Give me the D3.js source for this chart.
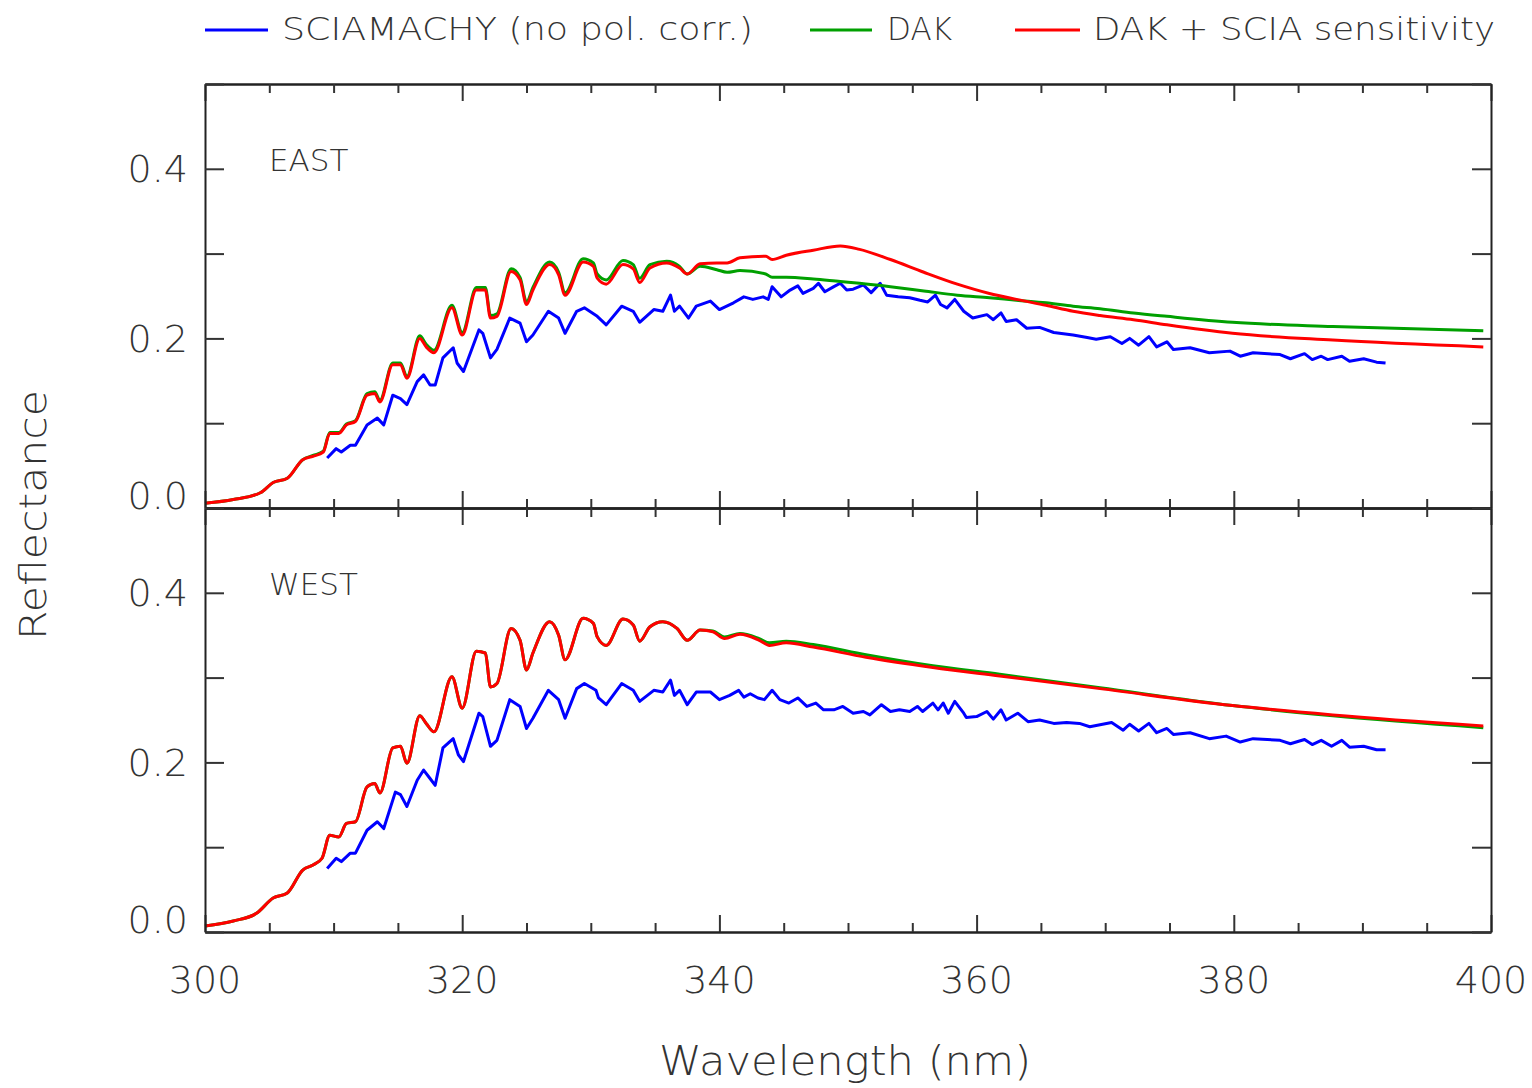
<!DOCTYPE html>
<html><head><meta charset="utf-8">
<script src="https://cdn.jsdelivr.net/npm/d3@7"></script>
<style>
body{margin:0;background:#fff}
text{font-family:"DejaVu Sans","Liberation Sans",sans-serif;fill:#333;font-weight:200}
</style>
</head><body>
<svg id="c" width="1532" height="1088"></svg>
<script>
// ---------- DATA ----------
const xTickLabels = [300, 320, 340, 360, 380, 400];
const yTickLabels = [0.0, 0.2, 0.4];
const seriesNames = ["SCIAMACHY (no pol. corr.)", "DAK", "DAK + SCIA sensitivity"];
const panelNames = ["EAST", "WEST"];

// EAST: DAK model grid
const eastDakWl = [300,302.2,304.3,305.3,306.4,307.6,308.4,309.2,309.7,310.4,
  311.0,311.7,312.6,313.2,313.6,314.6,315.2,315.7,316.7,317.2,
  317.8,319.2,320.0,321.1,321.8,322.2,322.7,323.8,324.5,325.0,
  325.5,326.8,327.5,328.0,329.4,330.2,330.5,331.2,332.5,333.3,
  333.8,334.6,335.9,336.9,337.5,338.5,339.8,340.6,341.6,343.6,
  344.1,345.2,347.3,349.4,
  350.9,353.3,355.9,358.5,361.0,363.1,365.4,367.5,369.6,372.2,374.8,379.9,387.7,399.4];
const eastDak = [.0055,.010,.018,.030,.035,.057,.062,.067,.089,.089,
  .099,.103,.135,.137,.127,.171,.171,.155,.203,.193,
  .186,.239,.207,.260,.260,.227,.229,.282,.272,.243,
  .260,.290,.278,.254,.294,.289,.276,.269,.292,.287,
  .271,.287,.291,.285,.276,.285,.281,.278,.280,.276,
  .272,.272,.270,.267,
  .265,.261,.256,.251,.248,.245,.242,.238,.235,.230,.226,.219,.214,.209];
const eastDakScia = [.0055,.010,.018,.030,.035,.057,.061,.066,.088,.088,
  .098,.102,.133,.135,.125,.169,.169,.153,.200,.190,
  .183,.236,.204,.257,.257,.224,.226,.279,.269,.240,
  .257,.287,.275,.251,.290,.285,.271,.264,.287,.282,
  .266,.283,.289,.283,.276,.288,.289,.289,.295,.297,
  .293,.298,.304,.309,
  .305,.293,.278,.264,.253,.246,.239,.232,.227,.222,.216,.206,.198,.190];
// EAST: SCIAMACHY measurement
const eastSciaWl = [309.5,310.2,310.6,311.3,311.7,312.6,313.4,313.9,314.6,315.2,
  315.7,316.5,317.0,317.5,317.9,318.5,319.3,319.6,320.1,321.3,
  321.6,322.2,322.7,323.7,324.5,325.0,325.5,326.7,327.5,328.0,
  328.9,329.5,330.5,331.2,332.4,333.3,333.8,334.9,335.6,336.2,
  336.5,336.9,337.6,338.2,339.3,340.0,341.1,341.9,342.6,343.4,
  343.8,344.1,344.8,345.5,346.1,346.5,347.3,347.7,348.2,348.9,
  349.4,349.9,350.4,351.2,351.8,352.5,353.0,353.9,354.8,355.6,
  356.2,356.8,357.2,357.7,358.3,359.0,359.7,360.8,361.3,361.9,
  362.3,363.1,363.9,364.9,366.0,367.5,368.6,369.3,370.4,371.3,
  371.9,372.6,373.4,374.0,374.8,375.3,376.6,378.1,379.7,380.5,
  381.5,383.6,384.4,385.5,386.1,386.8,387.3,388.4,389.0,390.1,
  391.1,391.8];
const eastScia = [.059,.070,.066,.074,.074,.098,.106,.098,.133,.129,
  .122,.149,.157,.145,.145,.177,.189,.171,.161,.210,
  .206,.177,.187,.224,.218,.196,.204,.232,.224,.206,
  .232,.236,.226,.216,.238,.232,.219,.234,.232,.251,
  .232,.238,.224,.238,.244,.234,.242,.249,.246,.249,
  .246,.261,.249,.257,.262,.253,.259,.265,.255,.261,
  .265,.257,.258,.263,.254,.265,.251,.249,.248,.245,
  .243,.251,.240,.236,.246,.232,.224,.228,.222,.230,
  .220,.222,.212,.213,.207,.204,.201,.199,.202,.194,
  .200,.192,.202,.190,.196,.187,.189,.183,.185,.179,
  .183,.181,.176,.182,.175,.179,.175,.179,.173,.176,
  .172,.171];

// WEST: DAK model grid
const westDakWl = [300,302.2,304.0,305.3,306.4,307.6,308.4,309.1,309.7,310.4,
  311.0,311.7,312.6,313.2,313.6,314.6,315.2,315.7,316.7,317.2,
  317.8,319.2,320.0,321.1,321.8,322.2,322.7,323.8,324.5,325.0,
  325.5,326.8,327.5,328.0,329.4,330.2,330.5,331.2,332.5,333.3,
  333.8,334.6,335.6,336.7,337.5,338.5,339.5,340.4,341.6,343.1,
  343.9,345.2,347.3,351.4,356.6,361.8,369.6,379.9,387.7,399.4];
const westDak = [.007,.013,.022,.040,.046,.073,.079,.087,.114,.112,
  .128,.130,.171,.175,.164,.217,.219,.199,.255,.246,
  .236,.301,.264,.331,.329,.289,.293,.358,.344,.309,
  .329,.366,.350,.321,.370,.364,.348,.338,.369,.362,
  .343,.360,.366,.358,.344,.356,.355,.348,.352,.346,
  .341,.343,.339,.327,.314,.304,.288,.267,.255,.241];
const westDakScia = [.007,.013,.022,.040,.046,.073,.079,.087,.114,.112,
  .128,.130,.171,.175,.164,.217,.219,.199,.255,.246,
  .236,.301,.264,.331,.329,.289,.293,.358,.344,.309,
  .329,.366,.350,.321,.370,.364,.348,.338,.369,.362,
  .343,.360,.366,.358,.344,.356,.354,.346,.351,.344,
  .338,.341,.336,.324,.312,.302,.287,.267,.256,.243];
// WEST: SCIAMACHY measurement
const westSciaWl = [309.5,310.2,310.6,311.3,311.7,312.6,313.4,313.9,314.8,315.2,
  315.7,316.5,317.0,317.5,317.9,318.5,319.3,319.7,320.1,321.3,
  321.6,322.2,322.7,323.7,324.5,325.0,325.5,326.7,327.5,328.0,
  328.9,329.5,330.4,330.6,331.2,332.4,333.3,333.8,334.9,335.6,
  336.2,336.5,336.9,337.5,338.2,339.3,340.0,340.8,341.5,341.9,
  342.4,343.0,343.5,344.1,344.7,345.4,346.1,346.8,347.5,348.1,
  348.9,349.6,350.4,351.2,351.7,352.6,353.3,354.0,354.8,355.4,
  355.8,356.6,357.0,357.4,357.8,358.3,359.0,359.2,360.0,360.8,
  361.3,361.9,362.3,363.2,364.0,364.9,366.0,367.0,368.0,368.8,
  369.5,370.5,371.4,371.9,372.6,373.4,374.0,374.8,375.3,376.6,
  378.1,379.4,380.5,381.5,383.6,384.4,385.5,386.1,386.8,387.6,
  388.4,389.0,390.1,391.1,391.8];
const westScia = [.075,.087,.083,.093,.093,.120,.130,.122,.165,.162,
  .148,.179,.191,.181,.173,.217,.228,.209,.201,.258,
  .254,.219,.226,.274,.266,.240,.252,.285,.274,.252,
  .287,.293,.285,.276,.268,.293,.285,.272,.285,.283,
  .297,.279,.285,.268,.283,.283,.274,.279,.285,.277,
  .281,.276,.274,.285,.274,.270,.276,.266,.270,.262,
  .262,.266,.258,.260,.256,.268,.260,.262,.260,.266,
  .260,.270,.262,.270,.258,.272,.258,.253,.254,.260,
  .251,.262,.250,.258,.248,.250,.246,.247,.246,.242,
  .244,.247,.238,.245,.237,.246,.235,.240,.233,.235,
  .228,.231,.224,.228,.226,.222,.227,.221,.226,.219,
  .226,.218,.219,.215,.215];

// ---------- LAYOUT / STYLE ----------
const colors = ["#0000ff", "#00a000", "#ff0000"];
const svg = d3.select("#c");
const L = 205, R = 1491;
const x = d3.scaleLinear().domain([300, 400]).range([L, R]);
const panels = [
  {name: panelNames[0], top: 84, bottom: 508, dakWl: eastDakWl, dak: eastDak, daks: eastDakScia, sWl: eastSciaWl, s: eastScia},
  {name: panelNames[1], top: 508, bottom: 932, dakWl: westDakWl, dak: westDak, daks: westDakScia, sWl: westSciaWl, s: westScia}
];
const majorX = d3.range(300, 401, 20);
const minorX = d3.range(300, 401, 5).filter(v => v % 20 !== 0);
const yTicks = d3.range(0, 0.51, 0.1);

function styleAxis(g) {
  g.selectAll("path.domain").attr("stroke", "#222").attr("stroke-width", 2);
  g.selectAll(".tick line").attr("stroke", "#333").attr("stroke-width", 2);
  g.selectAll(".tick text").remove();
}

panels.forEach((p, i) => {
  const y = d3.scaleLinear().domain([0, 0.5]).range([p.bottom, p.top]);
  const g = svg.append("g");

  // data lines
  const line = d3.line().x(d => x(d[0])).y(d => y(d[1])).curve(d3.curveMonotoneX);
  const lineS = d3.line().x(d => x(d[0])).y(d => y(d[1]));
  g.append("path").datum(d3.zip(p.sWl, p.s)).attr("d", lineS)
    .attr("fill", "none").attr("stroke", colors[0]).attr("stroke-width", 3).attr("stroke-linejoin", "round");
  g.append("path").datum(d3.zip(p.dakWl, p.dak)).attr("d", line)
    .attr("fill", "none").attr("stroke", colors[1]).attr("stroke-width", 3).attr("stroke-linejoin", "round");
  g.append("path").datum(d3.zip(p.dakWl, p.daks)).attr("d", line)
    .attr("fill", "none").attr("stroke", colors[2]).attr("stroke-width", 3).attr("stroke-linejoin", "round");

  // axes (ticks pointing inward)
  g.append("g").attr("transform", `translate(0,${p.bottom})`)
    .call(d3.axisBottom(x).tickValues(majorX).tickSize(-17).tickSizeOuter(0)).call(styleAxis);
  g.append("g").attr("transform", `translate(0,${p.bottom})`)
    .call(d3.axisBottom(x).tickValues(minorX).tickSize(-9).tickSizeOuter(0)).call(styleAxis);
  g.append("g").attr("transform", `translate(0,${p.top})`)
    .call(d3.axisTop(x).tickValues(majorX).tickSize(-17).tickSizeOuter(0)).call(styleAxis);
  g.append("g").attr("transform", `translate(0,${p.top})`)
    .call(d3.axisTop(x).tickValues(minorX).tickSize(-9).tickSizeOuter(0)).call(styleAxis);
  g.append("g").attr("transform", `translate(${L},0)`)
    .call(d3.axisLeft(y).tickValues(yTicks).tickSize(-19).tickSizeOuter(0)).call(styleAxis);
  g.append("g").attr("transform", `translate(${R},0)`)
    .call(d3.axisRight(y).tickValues(yTicks).tickSize(-19).tickSizeOuter(0)).call(styleAxis);

  // y tick labels
  g.selectAll("text.yl").data(yTickLabels).join("text").attr("class", "yl")
    .attr("x", 188).attr("y", d => y(d) + (d === 0 ? -13 : 0))
    .attr("dy", "0.36em").attr("text-anchor", "end").attr("font-size", 38)
    .text(d => d3.format(".1f")(d));

  // panel label
  g.append("text").attr("x", 269).attr("y", p.top + 87).attr("font-size", 31).text(p.name);

  if (i === 1) {
    g.selectAll("text.xl").data(xTickLabels).join("text").attr("class", "xl")
      .attr("x", d => x(d)).attr("y", 993).attr("text-anchor", "middle").attr("font-size", 38)
      .text(d => d);
  }
});

// axis titles
svg.append("text").attr("x", 845).attr("y", 1075).attr("text-anchor", "middle")
  .attr("font-size", 40).attr("textLength", 372).attr("lengthAdjust", "spacingAndGlyphs").text("Wavelength (nm)");
svg.append("text").attr("transform", "translate(46,515) rotate(-90)").attr("text-anchor", "middle")
  .attr("font-size", 38).attr("textLength", 250).attr("lengthAdjust", "spacingAndGlyphs").text("Reflectance");

// legend
const legend = [
  {x1: 205, x2: 268, tx: 282, tw: 471},
  {x1: 810, x2: 872, tx: 887, tw: 65},
  {x1: 1015, x2: 1080, tx: 1093, tw: 402}
];
legend.forEach((l, i) => {
  svg.append("line").attr("x1", l.x1).attr("x2", l.x2).attr("y1", 30).attr("y2", 30)
    .attr("stroke", colors[i]).attr("stroke-width", 3);
  svg.append("text").attr("x", l.tx).attr("y", 40).attr("font-size", 32)
    .attr("textLength", l.tw).attr("lengthAdjust", "spacingAndGlyphs").text(seriesNames[i]);
});
</script>
</body></html>
